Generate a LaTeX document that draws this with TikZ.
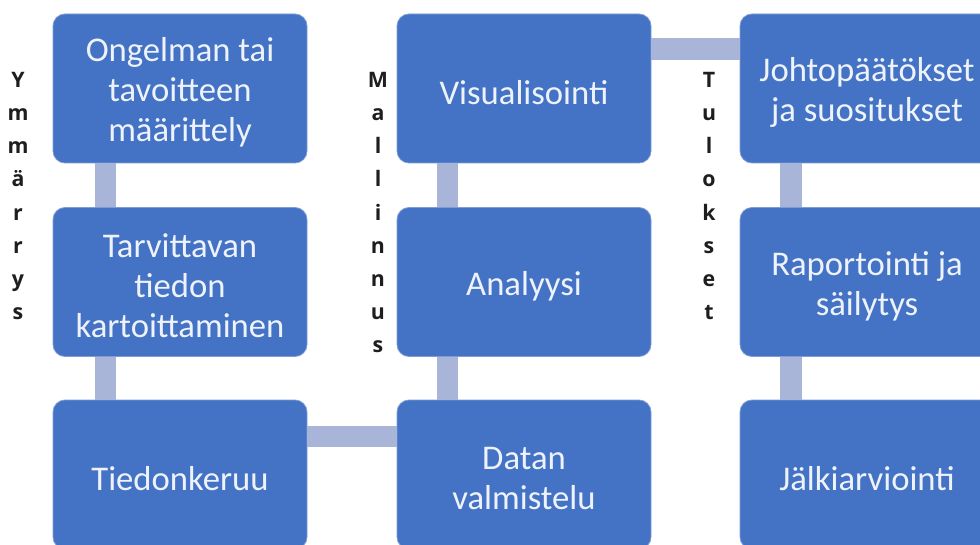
\documentclass[tikz,border=0pt]{standalone}
\usepackage{fontspec}
\setmainfont{Carlito}
\newfontfamily\labelfont{Open Sans}
\usetikzlibrary{calc}

\definecolor{boxblue}{HTML}{4472C4}
\definecolor{boxedge}{HTML}{7E9DD6}
\definecolor{linkgrey}{HTML}{A9B5D8}
\definecolor{boxtext}{HTML}{EEF3FB}
\definecolor{labelink}{HTML}{1E1E1E}

\begin{document}
\begin{tikzpicture}[x=0.75pt,y=-0.75pt,
  stepbox/.style={draw=boxedge, line width=0.6pt, fill=boxblue,
    rounded corners=9pt, minimum width=190.5pt, minimum height=111.75pt,
    inner sep=0pt},
  steptext/.style={inner sep=0pt, text=boxtext, align=center,
    font=\fontsize{26}{30}\selectfont},
  sidelabel/.style={anchor=base, inner sep=0pt, text=labelink,
    font=\labelfont\bfseries\fontsize{16}{19}\selectfont},
  link/.style={fill=linkgrey}]

% page frame, 980 x 545 px
\clip (0,0) rectangle (980,545);
\fill[white] (0,0) rectangle (980,545);

% process steps, three columns
\node[stepbox] (ongelma)    at (180,88.5)  {};
\node[stepbox] (tarve)      at (180,282)   {};
\node[stepbox] (keruu)      at (180,474.5) {};
\node[stepbox] (valmistelu) at (524,474.5) {};
\node[stepbox] (analyysi)   at (524,282)   {};
\node[stepbox] (visual)     at (524,88.5)  {};
\node[stepbox] (johto)      at (867,88.5)  {};
\node[stepbox] (raportti)   at (867,282)   {};
\node[stepbox] (jalki)      at (867,474.5) {};

% step texts, set slightly below the box centres
\node[steptext] (ongelma-t)    at ($(ongelma)+(0,4)$)    {Ongelman tai\\tavoitteen\\määrittely};
\node[steptext] (tarve-t)      at ($(tarve)+(0,4)$)      {Tarvittavan\\tiedon\\kartoittaminen};
\node[steptext] (keruu-t)      at ($(keruu)+(0,4)$)      {Tiedonkeruu};
\node[steptext] (valmistelu-t) at ($(valmistelu)+(0,4)$) {Datan\\valmistelu};
\node[steptext] (analyysi-t)   at ($(analyysi)+(0,4)$)   {Analyysi};
\node[steptext] (visual-t)     at ($(visual)+(0,4)$)     {Visualisointi};
\node[steptext] (johto-t)      at ($(johto)+(0,4)$)      {Johtopäätökset\\ja suositukset};
\node[steptext] (raportti-t)   at ($(raportti)+(0,4)$)   {Raportointi ja\\säilytys};
\node[steptext] (jalki-t)      at ($(jalki)+(0,4)$)      {Jälkiarviointi};

% vertical links inside the columns
\fill[link] ($(ongelma.south west)+(42,0)$) rectangle ($(tarve.north west)+(63,0)$);
\fill[link] ($(tarve.south west)+(42,0)$) rectangle ($(keruu.north west)+(63,0)$);
\fill[link] ($(analyysi.south west)+(40,0)$) rectangle ($(valmistelu.north west)+(61,0)$);
\fill[link] ($(visual.south west)+(40,0)$) rectangle ($(analyysi.north west)+(61,0)$);
\fill[link] ($(johto.south west)+(40,0)$) rectangle ($(raportti.north west)+(62,0)$);
\fill[link] ($(raportti.south west)+(40,0)$) rectangle ($(jalki.north west)+(62,0)$);

% horizontal links between the columns
\fill[link] ($(keruu.north east)+(0,26)$) rectangle ($(valmistelu.north west)+(0,47)$);
\fill[link] ($(visual.north east)+(0,24)$) rectangle ($(johto.north west)+(0,46)$);

% phase names, one letter per line
\foreach \ch [count=\i] in {Y,m,m,ä,r,r,y,s}
  \node[sidelabel] (ymm\i) at (18,{88+33*(\i-1)}) {\ch};
\foreach \ch [count=\i] in {M,a,l,l,i,n,n,u,s}
  \node[sidelabel] (mal\i) at (378,{88+33*(\i-1)}) {\ch};
\foreach \ch [count=\i] in {T,u,l,o,k,s,e,t}
  \node[sidelabel] (tul\i) at (709,{88+33*(\i-1)}) {\ch};
\end{tikzpicture}
\end{document}
